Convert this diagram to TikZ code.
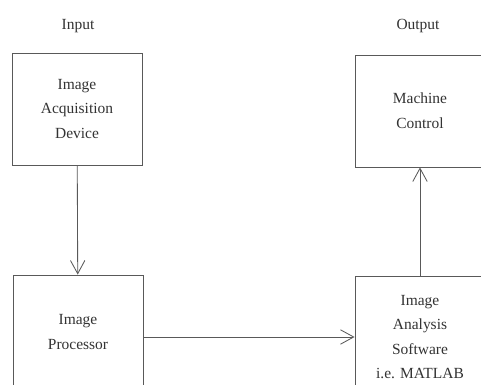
\documentclass[tikz,border=0pt]{standalone}
\usepackage{fontspec}
\setmainfont{Liberation Serif}
\usetikzlibrary{arrows.meta}
\begin{document}
\begin{tikzpicture}[x=0.025cm,y=-0.025cm,
        blk/.style={draw=black!65,line width=0.6pt,minimum width=3.25cm,align=center,
            font=\fontsize{11}{17.5}\selectfont,text=black!80},
        lbl/.style={font=\fontsize{11}{13}\selectfont,text=black!80},
        flow/.style={draw=black!65,line width=0.6pt,-{Straight Barb[length=3.3mm,width=3.6mm]}}]
        \useasboundingbox (0,0) rectangle (481,385);
        \clip (0,0) rectangle (481,385);
        \fill[white] (0,0) rectangle (481,385);
        \node[lbl] (in) at (78,26) {Input};
        \node[lbl] (out) at (418,26) {Output};
        \node[blk,minimum height=2.8cm] (acq) at (77,109) {Image\\Acquisition\\Device};
        \node[blk,minimum height=2.8cm] (mc) at (420,111) {Machine\\Control};
        \node[blk,minimum height=3.1cm] (proc) at (78,337) {Image\\Processor\\[-10pt]};
        \node[blk,minimum height=3.05cm] (ana) at (420,337) {Image\\Analysis\\Software\\i.e. MATLAB};
        \draw[flow] (acq) -- (proc);
        \draw[flow] (proc) -- (ana);
        \draw[flow] (ana) -- (mc);
\end{tikzpicture}
\end{document}
